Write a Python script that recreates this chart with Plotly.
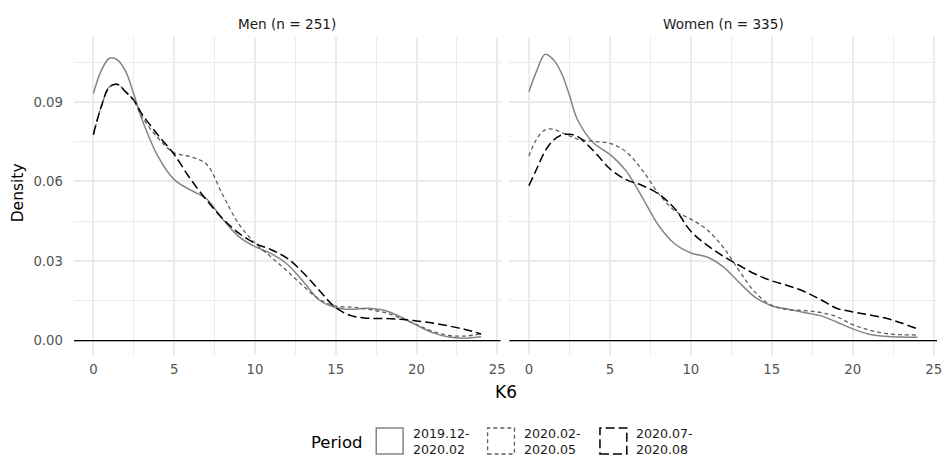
import plotly.graph_objects as go

# ---------------- data ----------------
k6 = [0, 0.5, 1, 1.5, 2, 2.5, 3, 4, 5, 6, 7, 8, 9, 10, 11, 12, 13, 14,
      15, 16, 17, 18, 19, 20, 21, 22, 23, 24]

periods = ["2019.12-<br>2020.02", "2020.02-<br>2020.05", "2020.07-<br>2020.08"]
panel_titles = ["Men (n = 251)", "Women (n = 335)"]

men_p1 = [0.0932, 0.1020, 0.1065, 0.1058, 0.1015, 0.0930, 0.0836, 0.0695, 0.0607,
          0.0568, 0.0535, 0.0458, 0.0392, 0.0354, 0.0328, 0.0288, 0.0222, 0.0152,
          0.0124, 0.0118, 0.0122, 0.0114, 0.0090, 0.0058, 0.0030, 0.0013, 0.0009, 0.0014]
men_p2 = [0.0777, 0.0885, 0.0957, 0.0966, 0.0938, 0.0905, 0.0845, 0.0764, 0.0708,
          0.0694, 0.0665, 0.0550, 0.0440, 0.0368, 0.0315, 0.0262, 0.0205, 0.0155,
          0.0130, 0.0126, 0.0118, 0.0106, 0.0085, 0.0060, 0.0035, 0.0019, 0.0017, 0.0025]
men_p3 = [0.0777, 0.0885, 0.0957, 0.0966, 0.0938, 0.0907, 0.0855, 0.0775, 0.0702,
          0.0610, 0.0530, 0.0460, 0.0405, 0.0367, 0.0343, 0.0310, 0.0255, 0.0188,
          0.0124, 0.0093, 0.0084, 0.0083, 0.0080, 0.0074, 0.0066, 0.0055, 0.0042, 0.0025]

women_p1 = [0.0938, 0.1020, 0.1080, 0.1060, 0.1010, 0.0926, 0.0833, 0.0745, 0.0702,
            0.0640, 0.0540, 0.0435, 0.0365, 0.0330, 0.0315, 0.0278, 0.0218, 0.0162,
            0.0131, 0.0118, 0.0106, 0.0094, 0.0070, 0.0044, 0.0024, 0.0016, 0.0013, 0.0012]
women_p2 = [0.0696, 0.0762, 0.0795, 0.0797, 0.0785, 0.0772, 0.0760, 0.0751, 0.0744,
            0.0712, 0.0643, 0.0555, 0.0490, 0.0458, 0.0418, 0.0352, 0.0262, 0.0180,
            0.0132, 0.0117, 0.0113, 0.0106, 0.0090, 0.0060, 0.0040, 0.0027, 0.0022, 0.0021]
women_p3 = [0.0584, 0.0650, 0.0715, 0.0755, 0.0775, 0.0778, 0.0770, 0.0715, 0.0648,
            0.0607, 0.0585, 0.0553, 0.0498, 0.0412, 0.0360, 0.0318, 0.0283, 0.0250,
            0.0225, 0.0207, 0.0185, 0.0155, 0.0122, 0.0108, 0.0097, 0.0085, 0.0066, 0.0044]

y_ticks = [0.00, 0.03, 0.06, 0.09]
x_ticks = [0, 5, 10, 15, 20, 25]

# ---------------- styling ----------------
FONT = "DejaVu Sans"
styles = [
    dict(color="#858585", width=1.5, dash="solid"),
    dict(color="#5f5f5f", width=1.3, dash="4px,3px"),
    dict(color="#000000", width=1.5, dash="9px,4px"),
]

fig = go.Figure()
panels = [("x", "y", [men_p1, men_p2, men_p3]),
          ("x2", "y2", [women_p1, women_p2, women_p3])]
for xa, ya, series in panels:
    for i, vals in enumerate(series):
        fig.add_trace(go.Scatter(
            x=k6, y=vals, mode="lines", xaxis=xa, yaxis=ya,
            line=dict(shape="spline", smoothing=1.0, **styles[i]),
            name=periods[i].replace("<br>", ""), showlegend=False,
            hoverinfo="skip"))

W, H = 949, 458
L, R, T, B = 74, 942, 37, 355
pw, ph = R - L, B - T
def px(x):
    return (x - L) / pw
def py(y):
    return (B - y) / ph

grid = "#EBEBEB"
tick_font = dict(family=FONT, size=13.3, color="#555555")
common_x = dict(range=[-1.2, 25.2], tickvals=x_ticks, showgrid=True, gridcolor=grid,
                gridwidth=1.5, zeroline=False, showline=False, ticks="",
                tickfont=tick_font, ticklabelstandoff=5,
                minor=dict(dtick=2.5, tick0=0, showgrid=True, gridcolor=grid, gridwidth=1.0))
common_y = dict(range=[-0.00545, 0.1145], tickvals=y_ticks, tickformat=".2f",
                showgrid=True, gridcolor=grid, gridwidth=1.5, zeroline=False,
                showline=False, ticks="", tickfont=tick_font,
                minor=dict(dtick=0.015, tick0=0, showgrid=True, gridcolor=grid, gridwidth=1.0))

fig.update_layout(
    width=W, height=H,
    margin=dict(l=L, r=W - R, t=T, b=H - B),
    paper_bgcolor="white", plot_bgcolor="white",
    showlegend=False,
    xaxis=dict(domain=[0, px(503)], anchor="y", **common_x),
    xaxis2=dict(domain=[px(512), 1], anchor="y2", **common_x),
    yaxis=dict(domain=[0, 1], anchor="x", ticklabelstandoff=10, **common_y),
    yaxis2=dict(domain=[0, 1], anchor="x2", matches="y", showticklabels=False, **common_y),
)

# zero reference lines
for xr, yr in [("x domain", "y"), ("x2 domain", "y2")]:
    fig.add_shape(type="line", xref=xr, yref=yr, x0=0, x1=1, y0=0, y1=0,
                  line=dict(color="black", width=1.3))

# facet titles
for title, (a, b) in zip(panel_titles, [(74, 503), (512, 942)]):
    fig.add_annotation(text=title, xref="paper", yref="paper",
                       x=px((a + b) / 2), y=py(24), showarrow=False,
                       xanchor="center", yanchor="middle",
                       font=dict(family=FONT, size=13.6, color="#1A1A1A"))

# axis titles
fig.add_annotation(text="Density", xref="paper", yref="paper", x=px(18), y=py(193),
                   textangle=-90, showarrow=False, xanchor="center", yanchor="middle",
                   font=dict(family=FONT, size=15.5, color="black"))
fig.add_annotation(text="K6", xref="paper", yref="paper", x=px(508), y=py(392),
                   showarrow=False, xanchor="center", yanchor="middle",
                   font=dict(family=FONT, size=17, color="black"))

# legend
fig.add_annotation(text="Period", xref="paper", yref="paper", x=px(310), y=py(442),
                   showarrow=False, xanchor="left", yanchor="middle",
                   font=dict(family=FONT, size=16.5, color="black"))
key_x = [378, 490, 603]
lab_x = [414, 526, 638]
for i in range(3):
    fig.add_shape(type="rect", xref="paper", yref="paper",
                  x0=px(key_x[i]), x1=px(key_x[i] + 27), y0=py(454), y1=py(428),
                  line=dict(color=styles[i]["color"], width=styles[i]["width"],
                            dash=styles[i]["dash"]),
                  fillcolor="rgba(0,0,0,0)")
    fig.add_annotation(text=periods[i], xref="paper", yref="paper", x=px(lab_x[i]),
                       y=py(441), showarrow=False, xanchor="left", yanchor="middle",
                       align="left", borderpad=0,
                       font=dict(family=FONT, size=12.6, color="#1A1A1A"))

fig.write_html("out.html")
